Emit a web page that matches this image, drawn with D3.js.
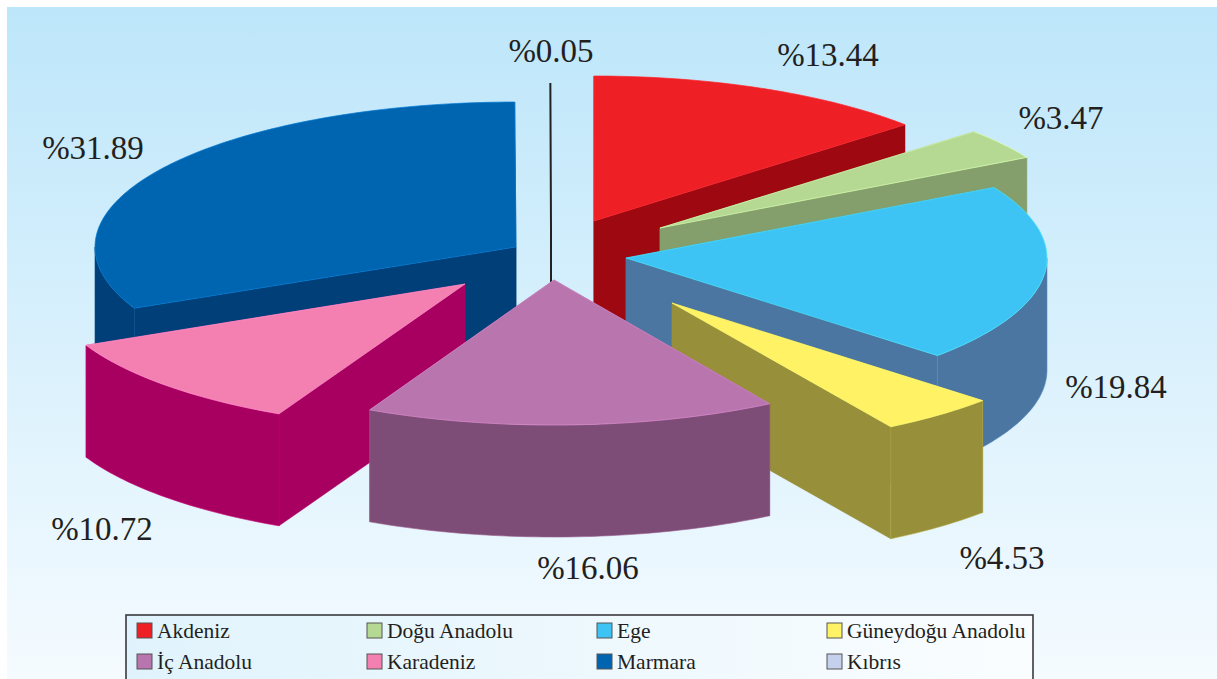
<!DOCTYPE html>
<html><head><meta charset="utf-8">
<script src="https://cdn.jsdelivr.net/npm/d3@7"></script>
<style>html,body{margin:0;padding:0;background:#fff;overflow:hidden}svg{display:block}text{font-family:"Liberation Serif",serif;fill:#231f20}</style>
</head><body>
<svg id="c" width="1217" height="679"></svg>
<script>
const categories=["Akdeniz","Doğu Anadolu","Ege","Güneydoğu Anadolu","İç Anadolu","Karadeniz","Marmara","Kıbrıs"];
const values=[13.44,3.47,19.84,4.53,16.06,10.72,31.89,0.05];
const valueLabels=["%13.44","%3.47","%19.84","%4.53","%16.06","%10.72","%31.89","%0.05"];
const topColors=["#ee1f25","#b5d993","#3dc4f5","#fff264","#b875ae","#f480b1","#0065b0","#c5d1ec"];
const sideColors=["#9e0810","#849f6c","#4b76a1","#978f3a","#7e4d77","#a80060","#003f78","#222222"];
const explodeX=[594,660,626,672,554,465,516,551];
const explodeY=[221,228,258,303,280,284,247,228];
const radiusX=[416,420,421,420,414,418,421,420];
const labelX=[828,1061,1116,1002,588,102,93,551];
const labelY=[66,129,398,569,579,540,159,62];
const paintOrder=[0,6,1,2,5,7,3,4];

const RY=145,DEPTH=112;
const svg=d3.select("#c");
const defs=svg.append("defs");
const bg=defs.append("linearGradient").attr("id","bg").attr("x1",0).attr("x2",0).attr("y1",0).attr("y2",1);
bg.append("stop").attr("offset",0).attr("stop-color","#bde6fa");
bg.append("stop").attr("offset",1).attr("stop-color","#f5fbff");
const lg=defs.append("linearGradient").attr("id","lg").attr("x1",0).attr("x2",1).attr("y1",0).attr("y2",0);
lg.append("stop").attr("offset",0).attr("stop-color","#e0f3fc");
lg.append("stop").attr("offset",1).attr("stop-color","#fafdff");
svg.append("rect").attr("x",7).attr("y",7).attr("width",1210).attr("height",672).attr("fill","url(#bg)");

const arcs=d3.pie().sort(null).value(d=>d).startAngle(0).endAngle(2*Math.PI)(values);
const line=d3.line();
const pt=(i,a,dz=0)=>[explodeX[i]+radiusX[i]*Math.sin(a),explodeY[i]-RY*Math.cos(a)+dz];
const samples=(a0,a1)=>{const n=Math.max(2,Math.ceil((a1-a0)/0.02));return d3.range(n+1).map(k=>a0+(a1-a0)*k/n);};
const pie=svg.append("g");
paintOrder.forEach(i=>{
  const {startAngle:a0,endAngle:a1}=arcs[i];
  const apex=[explodeX[i],explodeY[i]],apexLow=[explodeX[i],explodeY[i]+DEPTH];
  const g=pie.append("g");
  if(i===7){
    g.append("path").attr("d",line([pt(i,(a0+a1)/2),apex,apexLow])).attr("fill","none").attr("stroke",sideColors[i]).attr("stroke-width",2);
    return;
  }
  const walls=[a0,a1].sort((p,q)=>pt(i,p)[1]-pt(i,q)[1]);
  const edge=sideColors[i];
  walls.forEach(a=>{
    g.append("path").attr("d",line([apex,pt(i,a),pt(i,a,DEPTH),apexLow])+"Z").attr("fill",sideColors[i]).attr("stroke",edge).attr("stroke-width",0.5);
  });
  const f0=Math.max(a0,Math.PI/2),f1=Math.min(a1,1.5*Math.PI);
  if(f1>f0){
    const s=samples(f0,f1);
    g.append("path").attr("d",line(s.map(a=>pt(i,a)).concat(s.slice().reverse().map(a=>pt(i,a,DEPTH))))+"Z")
      .attr("fill",sideColors[i]).attr("stroke",d3.color(sideColors[i]).brighter(0.5)).attr("stroke-width",0.6);
  }
  g.append("path").attr("d",line([apex].concat(samples(a0,a1).map(a=>pt(i,a))))+"Z")
    .attr("fill",topColors[i]).attr("stroke",d3.color(topColors[i]).brighter(0.5)).attr("stroke-width",0.7);
});
svg.append("g").selectAll("text").data(valueLabels).join("text")
  .attr("x",(d,i)=>labelX[i]).attr("y",(d,i)=>labelY[i]).attr("text-anchor","middle").attr("font-size",33).text(d=>d);

const legend=svg.append("g");
legend.append("rect").attr("x",126).attr("y",615).attr("width",907).attr("height",80).attr("fill","url(#lg)").attr("stroke","#3a3a3c").attr("stroke-width",1.6);
const colX=d3.scalePoint().domain([0,1,2,3]).range([137,827]);
const rowY=d3.scalePoint().domain([0,1]).range([623,654]);
const items=legend.selectAll("g").data(categories).join("g").attr("transform",(d,i)=>`translate(${colX(i%4)},${rowY(Math.floor(i/4))})`);
items.append("rect").attr("width",15).attr("height",15).attr("fill",(d,i)=>topColors[i]).attr("stroke","#555").attr("stroke-width",1);
items.append("text").attr("x",20).attr("y",15).attr("font-size",21.5).text(d=>d);
</script>
</body></html>
